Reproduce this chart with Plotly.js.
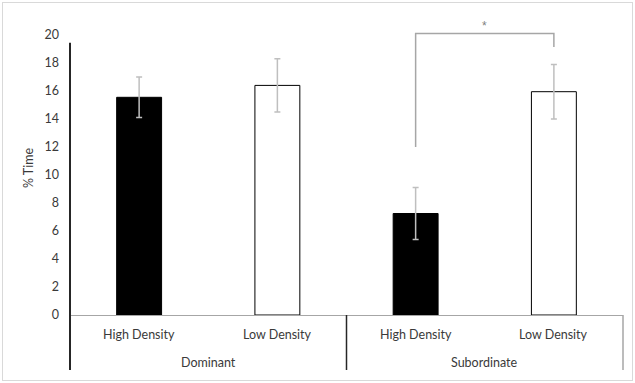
<!DOCTYPE html>
<html><head><meta charset="utf-8">
<script src="https://cdn.plot.ly/plotly-3.0.1.min.js"></script>
<style>
html,body{margin:0;padding:0;background:#fff;}
#wrap{position:relative;width:635px;height:383px;}
#chart{width:635px;height:383px;}
#frame{position:absolute;left:2px;top:2px;width:629px;height:377px;border:1px solid #d9d9d9;pointer-events:none;}
</style>
</head><body><div id="wrap"><div id="chart"></div><div id="frame"></div></div>
<script>
const groups = ["Dominant", "Dominant", "Subordinate", "Subordinate"];
const densities = ["High Density", "Low Density", "High Density", "Low Density"];
const groupNames = ["Dominant", "Subordinate"];
const values = [15.55, 16.4, 7.25, 15.95];
const errors = [1.45, 1.9, 1.85, 1.95];
const barColors = ["#000000", "#ffffff", "#000000", "#ffffff"];
const yTicks = [0, 2, 4, 6, 8, 10, 12, 14, 16, 18, 20];
// significance bracket (Subordinate High vs Low)
const bracketGroups = ["Subordinate", "Subordinate", "Subordinate", "Subordinate"];
const bracketDens = ["High Density", "High Density", "Low Density", "Low Density"];
const bracketY = [12.0, 20.1, 20.1, 19.15];
const sigLabel = "*";
const sigY = 20.65;

const font = "Lato, 'Open Sans', sans-serif";
const txt = "#3a3a3a";
const traces = [
  {
    type: "bar",
    x: [groups, densities],
    y: values,
    width: 0.325,
    marker: {color: barColors, line: {color: "#000000", width: 1}},
    error_y: {type: "data", array: errors, visible: true, color: "#bfbfbf", thickness: 1.5, width: 3},
    hoverinfo: "skip"
  },
  {
    type: "scatter",
    mode: "lines",
    x: [bracketGroups, bracketDens],
    y: bracketY,
    line: {color: "#a6a6a6", width: 1.5},
    cliponaxis: false,
    hoverinfo: "skip"
  }
];

// category labels (row 1: density, row 2: group)
const annotations = densities.map((d, i) => ({
  x: i, xref: "x", y: -0.068, yref: "paper", text: d, showarrow: false,
  xanchor: "center", yanchor: "middle", font: {family: font, size: 12.5, color: txt}
}));
groupNames.forEach((g, j) => annotations.push({
  x: 2 * j + 0.5, xref: "x", y: -0.16, yref: "paper", text: g, showarrow: false,
  xanchor: "center", yanchor: "middle", font: {family: font, size: 12.5, color: txt}
}));
annotations.push({x: 2.5, xref: "x", y: sigY, yref: "y", text: sigLabel, showarrow: false,
  font: {family: "'Liberation Sans', Arial, sans-serif", size: 12, color: "#7f7f7f"}});

const shapes = [
  // y axis line
  {type: "line", xref: "paper", yref: "y", x0: 0, x1: 0, y0: 0, y1: 19.45, line: {color: "#262626", width: 2}},
  // dividers below the axis
  {type: "line", xref: "paper", yref: "paper", x0: 0, x1: 0, y0: 0, y1: -0.187, line: {color: "#262626", width: 2}},
  {type: "line", xref: "paper", yref: "paper", x0: 0.5, x1: 0.5, y0: 0, y1: -0.187, line: {color: "#262626", width: 1.5}},
  {type: "line", xref: "paper", yref: "paper", x0: 1, x1: 1, y0: 0, y1: -0.187, line: {color: "#a6a6a6", width: 1.5}}
];

const layout = {
  width: 635, height: 383,
  margin: {l: 70, r: 12, t: 21, b: 68},
  showlegend: false,
  paper_bgcolor: "#ffffff", plot_bgcolor: "#ffffff",
  font: {family: font, size: 12, color: txt},
  xaxis: {
    type: "multicategory",
    showline: true, linecolor: "#a6a6a6", linewidth: 1,
    ticks: "", showticklabels: false, showdividers: false,
    fixedrange: true
  },
  yaxis: {
    range: [0, 21], tickvals: yTicks, ticktext: yTicks.map(String),
    showgrid: false, zeroline: false, showline: false,
    ticks: "", ticklabelstandoff: 10,
    tickfont: {family: font, size: 12.5, color: txt},
    title: {text: "% Time", font: {family: font, size: 12.5, color: txt}, standoff: 8},
    fixedrange: true
  },
  annotations: annotations,
  shapes: shapes
};
Plotly.newPlot("chart", traces, layout, {displayModeBar: false, staticPlot: true});
</script></body></html>
